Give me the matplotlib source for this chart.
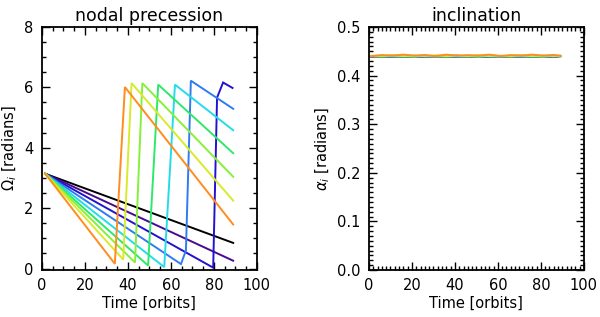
import matplotlib
matplotlib.use("Agg")
import matplotlib.pyplot as plt
from matplotlib.ticker import MultipleLocator

# ---- data ----
colors = ['#000000', '#4a0a8c', '#2212d0', '#2f7cf0', '#22dcea',
          '#2ee86a', '#86f03a', '#d8ea2a', '#ff8c1e']

# nodal precession: vertices (time [orbits], Omega [rad]) for each line
node_t = [
    [1.5, 89.0],
    [1.5, 89.0],
    [1.5, 79.7, 81.5, 84.3, 88.7],
    [1.5, 64.7, 67.0, 69.3, 89.0],
    [1.5, 56.9, 61.9, 89.0],
    [1.5, 49.4, 54.1, 89.0],
    [1.5, 43.3, 46.7, 89.0],
    [1.5, 37.8, 41.7, 89.0],
    [1.5, 33.9, 38.6, 89.0],
]
node_omega = [
    [3.14, 0.85],
    [3.14, 0.26],
    [3.14, 0.03, 5.66, 6.16, 5.98],
    [3.14, 0.15, 0.60, 6.22, 5.29],
    [3.14, 0.05, 6.09, 4.58],
    [3.14, 0.10, 6.09, 3.82],
    [3.14, 0.20, 6.14, 3.04],
    [3.14, 0.30, 6.14, 2.25],
    [3.14, 0.16, 6.01, 1.46],
]

# inclination (nearly constant ~0.44 rad)
incl_t = [1, 6, 11, 16, 21, 26, 31, 36, 41, 46, 51, 56, 61, 66, 71, 76, 81, 86, 89]
incl_vals = [
    [0.440, 0.439, 0.440, 0.439, 0.440, 0.439, 0.440, 0.439, 0.440, 0.439, 0.440, 0.439, 0.440, 0.439, 0.440, 0.439, 0.440, 0.439, 0.440],
    [0.440, 0.440, 0.439, 0.440, 0.440, 0.439, 0.440, 0.440, 0.439, 0.440, 0.440, 0.439, 0.440, 0.440, 0.439, 0.440, 0.440, 0.439, 0.440],
    [0.439, 0.440, 0.441, 0.439, 0.440, 0.441, 0.439, 0.440, 0.441, 0.439, 0.440, 0.441, 0.439, 0.440, 0.441, 0.439, 0.440, 0.441, 0.440],
    [0.440, 0.439, 0.438, 0.440, 0.439, 0.438, 0.440, 0.439, 0.438, 0.440, 0.439, 0.438, 0.440, 0.439, 0.438, 0.440, 0.439, 0.438, 0.440],
    [0.440, 0.441, 0.440, 0.439, 0.441, 0.440, 0.439, 0.441, 0.440, 0.439, 0.441, 0.440, 0.439, 0.441, 0.440, 0.439, 0.441, 0.440, 0.440],
    [0.440, 0.439, 0.441, 0.440, 0.439, 0.441, 0.440, 0.439, 0.441, 0.440, 0.439, 0.441, 0.440, 0.439, 0.441, 0.440, 0.439, 0.441, 0.440],
    [0.440, 0.441, 0.440, 0.442, 0.440, 0.441, 0.440, 0.442, 0.440, 0.441, 0.440, 0.442, 0.440, 0.441, 0.440, 0.442, 0.440, 0.441, 0.440],
    [0.441, 0.440, 0.442, 0.440, 0.441, 0.440, 0.442, 0.440, 0.441, 0.440, 0.442, 0.440, 0.441, 0.440, 0.442, 0.440, 0.441, 0.440, 0.441],
    [0.440, 0.442, 0.441, 0.443, 0.441, 0.442, 0.440, 0.443, 0.441, 0.442, 0.441, 0.443, 0.440, 0.442, 0.441, 0.443, 0.441, 0.442, 0.441],
]

titles = ['nodal precession', 'inclination']
xlabel = 'Time [orbits]'
ylabels = [r'$\Omega_i$ [radians]', r'$\alpha_i$ [radians]']

plt.rcParams['font.family'] = ['DejaVu Sans']
plt.rcParams['mathtext.fontset'] = 'dejavusans'

fig = plt.figure(figsize=(6.0, 3.17), dpi=100)
ax1 = fig.add_axes([0.070, 0.148, 0.358, 0.767])
ax2 = fig.add_axes([0.615, 0.148, 0.358, 0.767])

for c, t, o in zip(colors, node_t, node_omega):
    ax1.plot(t, o, color=c, lw=1.4, solid_joinstyle='miter')
for c, v in zip(colors, incl_vals):
    ax2.plot(incl_t, v, color=c, lw=1.4)

ax1.set_xlim(0, 100)
ax1.set_ylim(-0.05, 8)
ax1.set_yticks([0, 2, 4, 6, 8])
ax1.xaxis.set_major_locator(MultipleLocator(20))
ax1.xaxis.set_minor_locator(MultipleLocator(5))
ax1.yaxis.set_minor_locator(MultipleLocator(0.5))

ax2.set_xlim(0, 100)
ax2.set_ylim(0, 0.5)
ax2.xaxis.set_major_locator(MultipleLocator(20))
ax2.xaxis.set_minor_locator(MultipleLocator(2))
ax2.yaxis.set_major_locator(MultipleLocator(0.1))
ax2.yaxis.set_minor_locator(MultipleLocator(0.01))
ax2.yaxis.set_major_formatter(matplotlib.ticker.FormatStrFormatter('%.1f'))

for ax, ttl, yl in zip([ax1, ax2], titles, ylabels):
    ax.set_title(ttl, fontsize=12.5, pad=4)
    ax.set_xlabel(xlabel, fontsize=10.5, labelpad=2)
    ax.set_ylabel(yl, fontsize=10.5, labelpad=4)
    ax.tick_params(which='both', direction='in', top=True, right=True,
                   labelsize=10.5, width=1.0)
    ax.tick_params(which='major', length=6, pad=6)
    ax.tick_params(which='minor', length=3)
    for s in ax.spines.values():
        s.set_linewidth(1.3)

fig.savefig('out.png', dpi=100)
